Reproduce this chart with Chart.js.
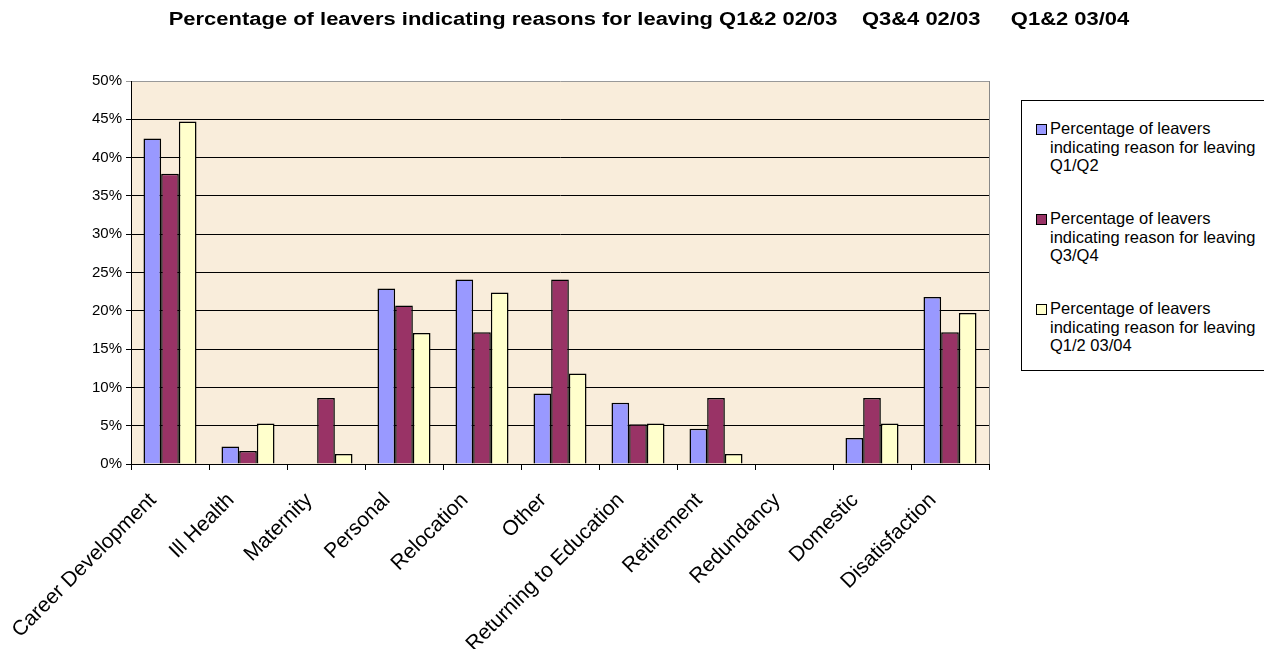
<!DOCTYPE html>
<html lang="en">
<head>
<meta charset="UTF-8" />
<title>Leavers – reasons for leaving</title>
<script src="https://cdn.jsdelivr.net/npm/chart.js@4.4.1/dist/chart.umd.min.js"></script>
<style>
  html, body { margin: 0; padding: 0; background: #fff; }
  body { width: 1264px; height: 649px; overflow: hidden; position: relative; font-family: "Liberation Sans", Arial, sans-serif; color: #000; }
  #wrap { position: absolute; left: 0; top: 0; width: 1264px; height: 649px; }
  #title { position: absolute; left: 17px; width: 1264px; top: 9px; line-height: 20px; text-align: center; font-weight: bold; font-size: 18px; white-space: pre; transform: scaleX(1.22); transform-origin: 632px 0; }
  #legend { position: absolute; left: 1021px; top: 100px; width: 270px; height: 271px; border: 1px solid #000; box-sizing: border-box; background: #fff; }
  .item { position: absolute; left: 28px; font-size: 16.5px; line-height: 18.5px; }
  .sq { position: absolute; left: -14px; top: 5px; width: 9px; height: 9px; border: 1px solid #000; }
</style>
</head>
<body>
<div id="wrap"><canvas id="chart" width="1264" height="649"></canvas></div>
<div id="title"></div>
<div id="legend"></div>

<script>
const titleText = "Percentage of leavers indicating reasons for leaving Q1&2 02/03    Q3&4 02/03     Q1&2 03/04";

const reasons = ["Career Development", "Ill Health", "Maternity", "Personal", "Relocation", "Other",
  "Returning to Education", "Retirement", "Redundancy", "Domestic", "Disatisfaction"];

// share of leavers giving each reason (fractions)
const q1q2 = [0.425, 0.023, 0, 0.229, 0.241, 0.092, 0.080, 0.046, 0, 0.034, 0.218];
const q3q4 = [0.379, 0.017, 0.086, 0.207, 0.172, 0.241, 0.052, 0.086, 0, 0.086, 0.172];
const q1q2next = [0.447, 0.053, 0.013, 0.171, 0.224, 0.118, 0.053, 0.013, 0, 0.053, 0.197];

const seriesNames = [
  ["Percentage of leavers", "indicating reason for leaving", "Q1/Q2"],
  ["Percentage of leavers", "indicating reason for leaving", "Q3/Q4"],
  ["Percentage of leavers", "indicating reason for leaving", "Q1/2 03/04"],
];
const seriesColors = ["#9999ff", "#993366", "#ffffcc"];
const yTicks = [0, 0.05, 0.10, 0.15, 0.20, 0.25, 0.30, 0.35, 0.40, 0.45, 0.50];

document.getElementById("title").textContent = titleText;

// legend box on the right
const legendEl = document.getElementById("legend");
seriesNames.forEach((lines, i) => {
  const it = document.createElement("div");
  it.className = "item";
  it.style.top = (18 + i * 90) + "px";
  it.innerHTML = '<span class="sq" style="background:' + seriesColors[i] + '"></span>' + lines.join("<br>");
  legendEl.appendChild(it);
});

// beige plot area with grey outline
const plotBg = {
  id: "plotBg",
  beforeDraw(chart) {
    const { ctx, chartArea: a } = chart;
    ctx.save();
    ctx.fillStyle = "#f9eddb";
    ctx.fillRect(a.left, a.top, a.right - a.left, a.bottom - a.top);
    ctx.restore();
  },
  afterDraw(chart) {
    const { ctx, chartArea: a } = chart;
    ctx.save();
    ctx.strokeStyle = "#888";
    ctx.lineWidth = 1;
    ctx.beginPath();
    ctx.moveTo(a.right + 0.5, a.top);
    ctx.lineTo(a.right + 0.5, a.bottom);
    ctx.stroke();
    ctx.restore();
  },
};

const datasets = [q1q2, q3q4, q1q2next].map((d, i) => ({
  label: seriesNames[i].join(" "),
  data: d,
  backgroundColor: seriesColors[i],
  borderColor: "#000",
  borderWidth: 1.5,
  barPercentage: 1,
  categoryPercentage: 0.68,
}));

new Chart(document.getElementById("chart"), {
  type: "bar",
  data: { labels: reasons, datasets },
  plugins: [plotBg],
  options: {
    responsive: false,
    animation: false,
    layout: { padding: { left: 0, top: 81, right: 275, bottom: 0 } },
    plugins: { legend: { display: false }, tooltip: { enabled: false } },
    scales: {
      x: {
        grid: { offset: true, drawOnChartArea: false, color: "#000", tickLength: 6 },
        border: { color: "#000", width: 1 },
        ticks: {
          color: "#000", font: { family: "Liberation Sans", size: 21 },
          minRotation: 45, maxRotation: 45, autoSkip: false, padding: 18, labelOffset: -17,
        },
        afterFit(scale) { scale.height = 185; },
      },
      y: {
        min: 0, max: 0.5,
        afterBuildTicks(scale) { scale.ticks = yTicks.map((v) => ({ value: v })); },
        grid: {
          color: (c) => (c.tick && c.tick.value === 0.5 ? "#999" : "#000"),
          tickLength: 5, lineWidth: 1,
        },
        border: { color: "#000", width: 1 },
        ticks: {
          color: "#000", font: { family: "Liberation Sans", size: 15 }, padding: 4,
          callback: (v) => Math.round(v * 100) + "%",
        },
        afterFit(scale) { scale.width = 131; },
      },
    },
  },
});
</script>
</body>
</html>
